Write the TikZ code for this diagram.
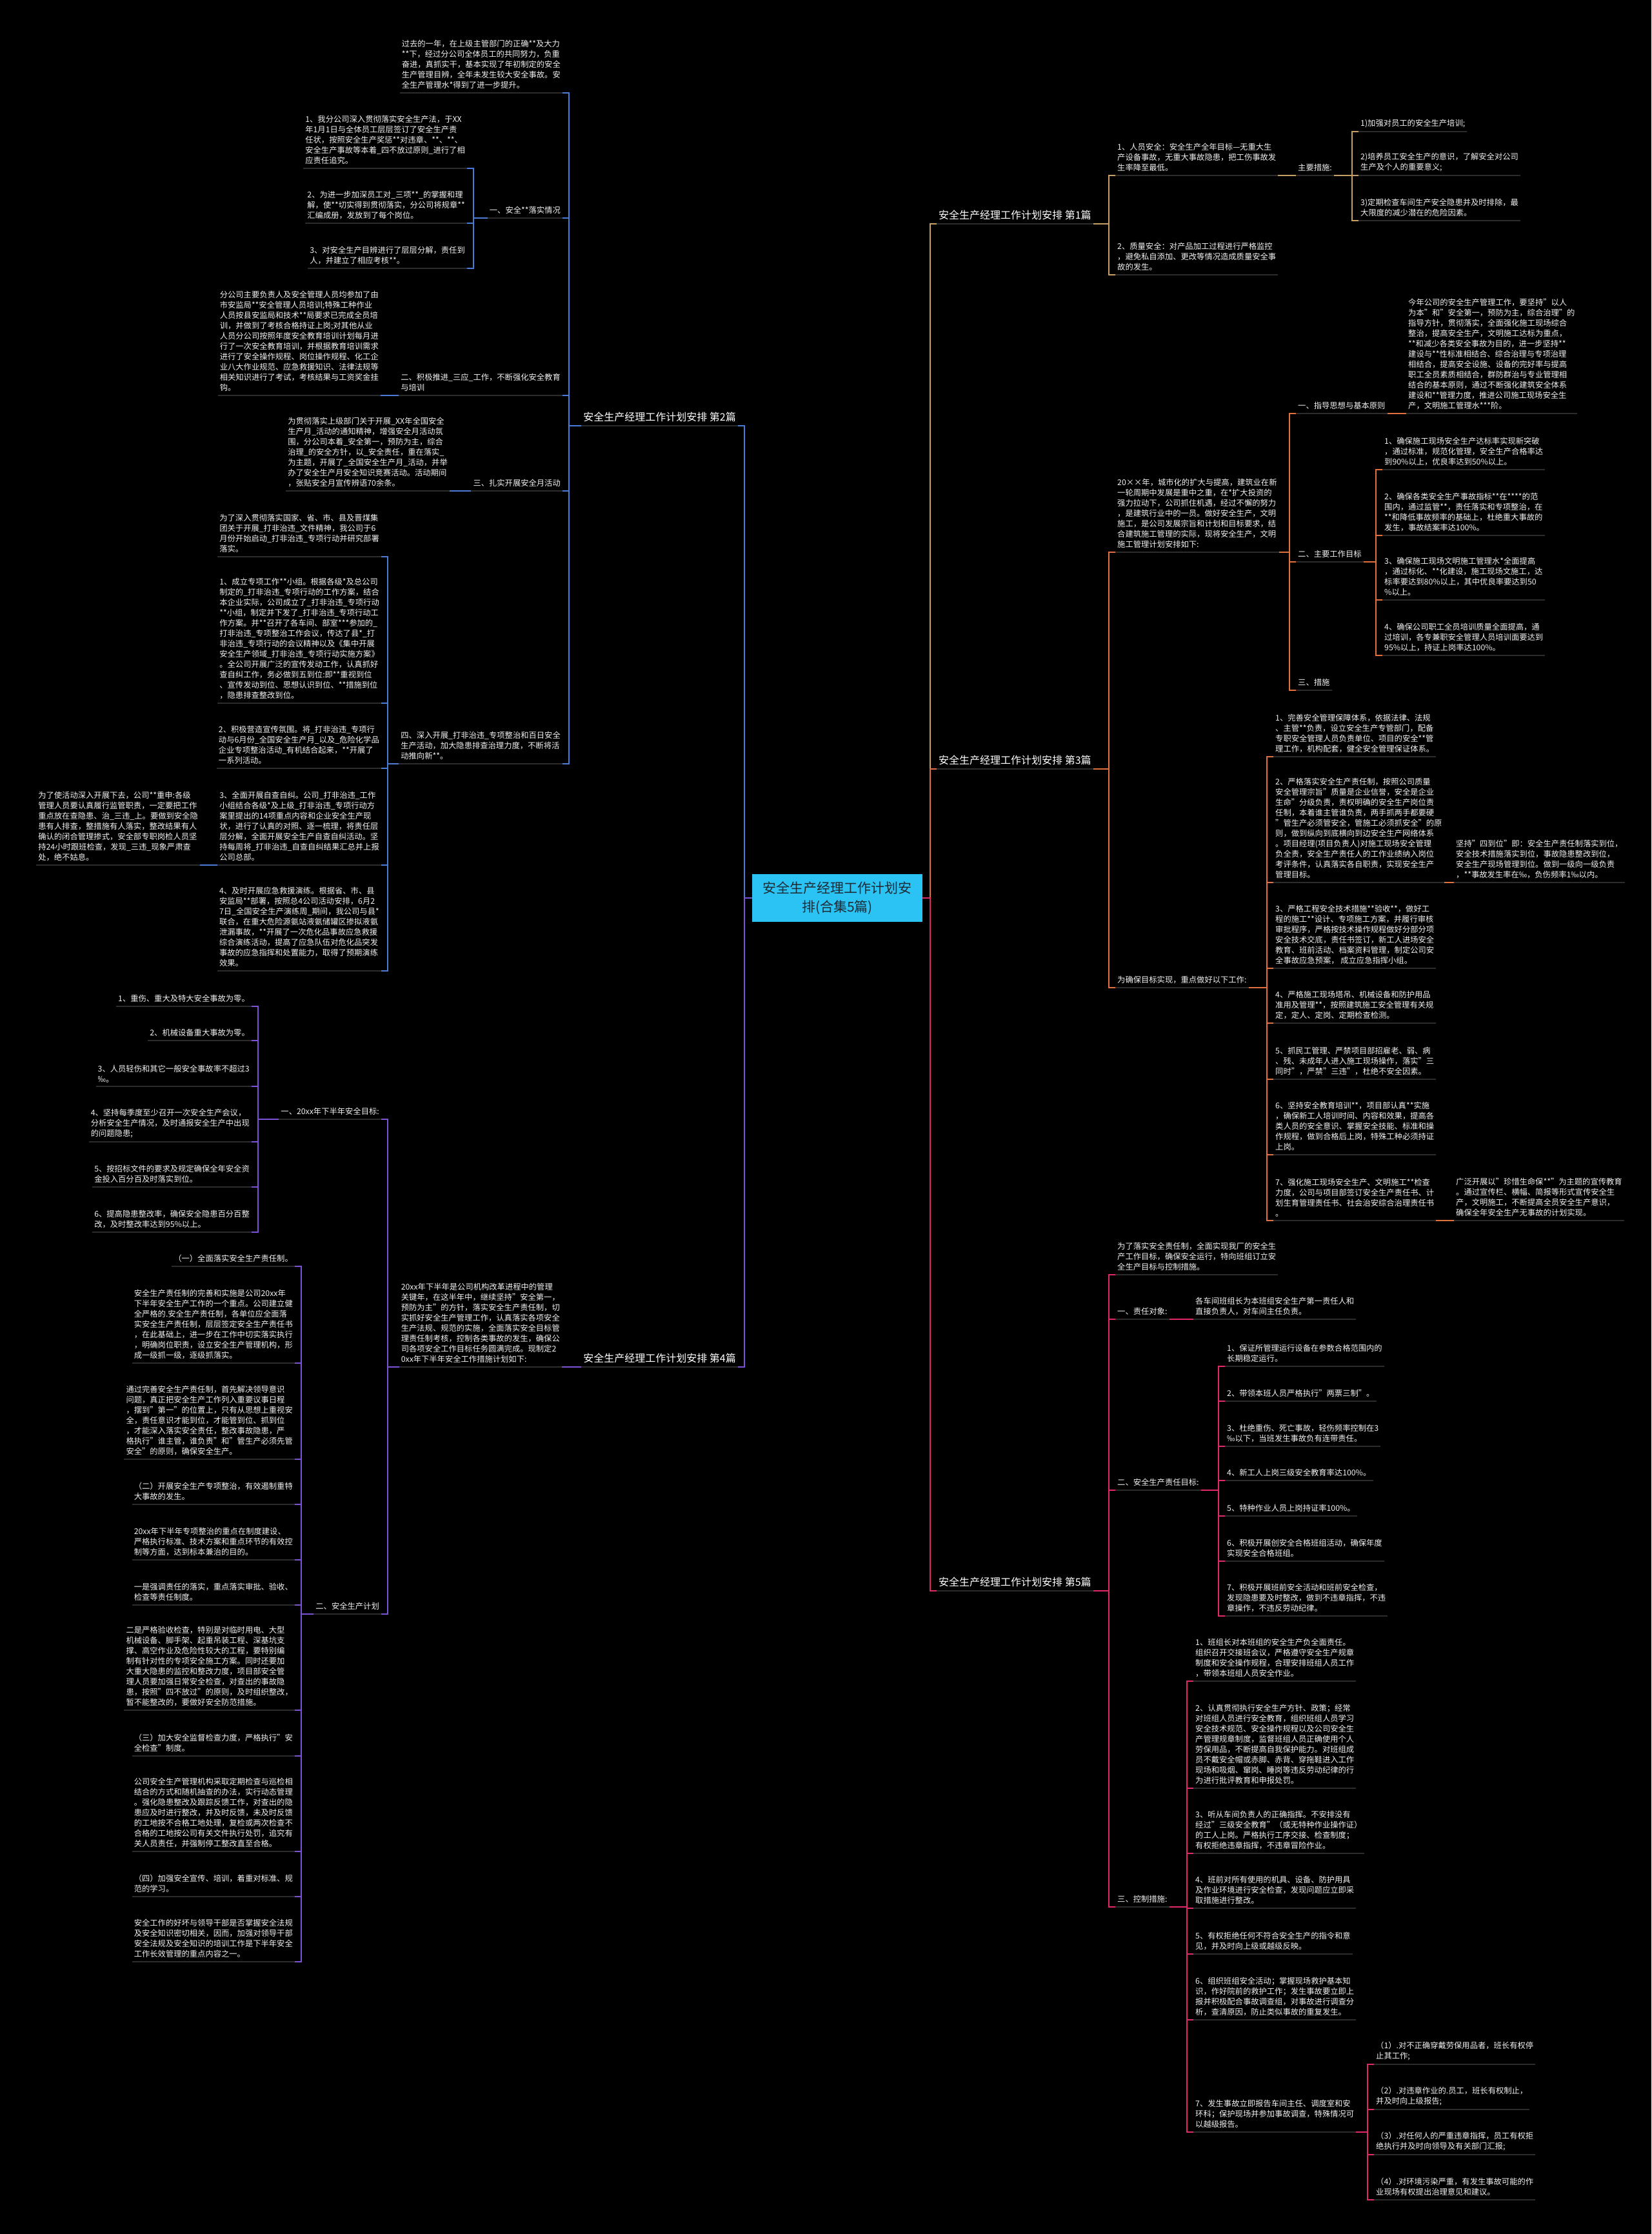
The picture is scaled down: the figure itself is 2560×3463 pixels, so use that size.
\documentclass[tikz,border=0pt]{standalone}
\usepackage{fontspec}
\setmainfont{Noto Sans CJK SC}
\usetikzlibrary{calc}
\definecolor{cB}{HTML}{4A7BD6}
\definecolor{cP}{HTML}{7B52D6}
\definecolor{cG}{HTML}{C9A063}
\definecolor{cO}{HTML}{E2703F}
\definecolor{cR}{HTML}{E0286A}
\definecolor{ulc}{HTML}{2C2C2C}
\definecolor{cen}{HTML}{2BC3F4}
\definecolor{centxt}{HTML}{1E2A33}
\tikzset{
  tx/.style={font=\fontsize{12.3}{16}\selectfont, text=white!95!black, align=left, inner xsep=3pt, inner ysep=6pt},
  tl/.style={tx, anchor=south east},
  tr/.style={tx, anchor=south west},
  lab/.style={font=\fontsize{16}{20}\selectfont, text=white, inner xsep=3pt, inner ysep=6pt},
  cn/.style={line width=2pt},
  ulin/.style={line width=2.5pt, ulc},
}
\newcommand\LConn[3]{\draw[cn,#1] (#2.south west) -| ([xshift=10pt]#3.south east) -- (#3.south east);}
\newcommand\RConn[3]{\draw[cn,#1] (#2.south east) -| ([xshift=-10pt]#3.south west) -- (#3.south west);}
\begin{document}
\begin{tikzpicture}[x=1pt,y=-1pt]
\fill[black] (0,0) rectangle (2560,3463);
\path[use as bounding box] (0,0) rectangle (2560,3463);

% centre
\node[fill=cen, text=centxt, minimum width=264pt, minimum height=74pt, font=\fontsize{21}{29}\selectfont, align=center, inner sep=2pt] (c) at (1298,1392) {安全生产经理工作计划安\\排(合集5篇)};

% ================= Branch 2 (left, blue)
\node[lab, anchor=south east] (b2) at (1144,660) {安全生产经理工作计划安排 第2篇};
\node[tl] (b2i) at (872,144) {过去的一年，在上级主管部门的正确**及大力\\**下，经过分公司全体员工的共同努力，负重\\奋进，真抓实干，基本实现了年初制定的安全\\生产管理目辨，全年未发生较大安全事故。安\\全生产管理水*得到了进一步提升。};
\node[tl] (b2a) at (872,338) {一、安全**落实情况};
\node[tl] (b2a1) at (724,261) {1、我分公司深入贯彻落实安全生产法，于XX\\年1月1日与全体员工层层签订了安全生产责\\任状，按照安全生产奖惩**对违章、**、**、\\安全生产事故等本着\_四不放过原则\_进行了相\\应责任追究。};
\node[tl] (b2a2) at (724,346) {2、为进一步加深员工对\_三项**\_的掌握和理\\解，使**切实得到贯彻落实，分公司将规章**\\汇编成册，发放到了每个岗位。};
\node[tl] (b2a3) at (724,416) {3、对安全生产目辨进行了层层分解，责任到\\人，并建立了相应考核**。};
\node[tl] (b2b) at (872,613) {二、积极推进\_三应\_工作，不断强化安全教育\\与培训};
\node[tl] (b2b1) at (590,613) {分公司主要负责人及安全管理人员均参加了由\\市安监局**安全管理人员培训;特殊工种作业\\人员按县安监局和技术**局要求已完成全员培\\训，并做到了考核合格持证上岗;对其他从业\\人员分公司按照年度安全教育培训计划每月进\\行了一次安全教育培训，并根据教育培训需求\\进行了安全操作规程、岗位操作规程、化工企\\业八大作业规范、应急救援知识、法律法规等\\相关知识进行了考试，考核结果与工资奖金挂\\钩。};
\node[tl] (b2c) at (872,761) {三、扎实开展安全月活动};
\node[tl] (b2c1) at (697,761) {为贯彻落实上级部门关于开展\_XX年全国安全\\生产月\_活动的通知精神，增强安全月活动氛\\围，分公司本着\_安全第一，预防为主，综合\\治理\_的安全方针，以\_安全责任，重在落实\_\\为主题，开展了\_全国安全生产月\_活动，并举\\办了安全生产月安全知识竞赛活动。活动期间\\，张贴安全月宣传辨语70余条。};
\node[tl] (b2d) at (872,1184) {四、深入开展\_打非治违\_专项整治和百日安全\\生产活动，加大隐患排查治理力度，不断将活\\动推向新**。};
\node[tl] (b2d1) at (591,863) {为了深入贯彻落实国家、省、市、县及晋煤集\\团关于开展\_打非治违\_文件精神，我公司于6\\月份开始启动\_打非治违\_专项行动并研究部署\\落实。};
\node[tl] (b2d2) at (591,1090) {1、成立专项工作**小组。根据各级*及总公司\\制定的\_打非治违\_专项行动的工作方案，结合\\本企业实际，公司成立了\_打非治违\_专项行动\\**小组，制定并下发了\_打非治违\_专项行动工\\作方案。并**召开了各车间、部室***参加的\_\\打非治违\_专项整治工作会议，传达了县*\_打\\非治违\_专项行动的会议精神以及《集中开展\\安全生产领域\_打非治违\_专项行动实施方案》\\。全公司开展广泛的宣传发动工作，认真抓好\\查自纠工作，务必做到五到位:即**重视到位\\、宣传发动到位、思想认识到位、**措施到位\\，隐患排查整改到位。};
\node[tl] (b2d3) at (591,1191) {2、积极营造宣传氛围。将\_打非治违\_专项行\\动与6月份\_全国安全生产月\_以及\_危险化学品\\企业专项整治活动\_有机结合起来，**开展了\\一系列活动。};
\node[tl] (b2d4) at (591,1341) {3、全面开展自查自纠。公司\_打非治违\_工作\\小组结合各级*及上级\_打非治违\_专项行动方\\案里提出的14项重点内容和企业安全生产现\\状，进行了认真的对照、逐一梳理，将责任层\\层分解，全面开展安全生产自查自纠活动。坚\\持每周将\_打非治违\_自查自纠结果汇总并上报\\公司总部。};
\node[tl] (b2d4a) at (310,1341) {为了使活动深入开展下去，公司**重申:各级\\管理人员要认真履行监管职责，一定要把工作\\重点放在查隐患、治\_三违\_上。要做到安全隐\\患有人排查，整措施有人落实，整改结果有人\\确认的闭合管理掺式，安全部专职岗检人员坚\\持24小时跟班检查，发现\_三违\_现象严肃查\\处，绝不姑息。};
\node[tl] (b2d5) at (591,1505) {4、及时开展应急救援演练。根据省、市、县\\安监局**部署，按照总4公司活动安排，6月2\\7日\_全国安全生产演练周\_期间，我公司与县*\\联合，在重大危险源氨站液氨储罐区掺拟液氨\\泄漏事故，**开展了一次危化品事故应急救援\\综合演练活动，提高了应急队伍对危化品突发\\事故的应急指挥和处置能力，取得了预期演练\\效果。};

% ================= Branch 4 (left, purple)
\node[lab, anchor=south east] (b4) at (1144,2119) {安全生产经理工作计划安排 第4篇};
\node[tl] (b4i) at (871,2119) {20xx年下半年是公司机构改革进程中的管理\\关键年，在这半年中，继续坚持"安全第一，\\预防为主"的方针，落实安全生产责任制，切\\实抓好安全生产管理工作，认真落实各项安全\\生产法规、规范的实施，全面落实安全目标管\\理责任制考核，控制各类事故的发生，确保公\\司各项安全工作目标任务圆满完成。现制定2\\0xx年下半年安全工作措施计划如下:};
\node[tl] (b4a) at (591,1735) {一、20xx年下半年安全目标:};
\node[tl] (b4a1) at (390,1560) {1、重伤、重大及特大安全事故为零。};
\node[tl] (b4a2) at (390,1613) {2、机械设备重大事故为零。};
\node[tl] (b4a3) at (390,1684) {3、人员轻伤和其它一般安全事故率不超过3\\‰。};
\node[tl] (b4a4) at (390,1770) {4、坚持每季度至少召开一次安全生产会议，\\分析安全生产情况，及时通报安全生产中出现\\的问题隐患;};
\node[tl] (b4a5) at (390,1840) {5、按招标文件的要求及规定确保全年安全资\\金投入百分百及时落实到位。};
\node[tl] (b4a6) at (390,1910) {6、提高隐患整改率，确保安全隐患百分百整\\改，及时整改率达到95\%以上。};
\node[tl] (b4b) at (591,2502) {二、安全生产计划};
\node[tl] (b4b1) at (457,1963) {（一）全面落实安全生产责任制。};
\node[tl] (b4b2) at (457,2113) {安全生产责任制的完善和实施是公司20xx年\\下半年安全生产工作的一个重点。公司建立健\\全严格的.安全生产责任制，各单位应全面落\\实安全生产责任制，层层签定安全生产责任书\\，在此基础上，进一步在工作中切实落实执行\\，明确岗位职责，设立安全生产管理机构，形\\成一级抓一级，逐级抓落实。};
\node[tl] (b4b3) at (457,2262) {通过完善安全生产责任制，首先解决领导意识\\问题，真正把安全生产工作列入重要议事日程\\，摆到"第一"的位置上，只有从思想上重视安\\全，责任意识才能到位，才能管到位、抓到位\\，才能深入落实安全责任，整改事故隐患，严\\格执行"谁主管，谁负责"和"管生产必须先管\\安全"的原则，确保安全生产。};
\node[tl] (b4b4) at (457,2332) {（二）开展安全生产专项整治，有效遏制重特\\大事故的发生。};
\node[tl] (b4b5) at (457,2418) {20xx年下半年专项整治的重点在制度建设、\\严格执行标准、技术方案和重点环节的有效控\\制等方面，达到标本兼治的目的。};
\node[tl] (b4b6) at (457,2488) {一是强调责任的落实，重点落实审批、验收、\\检查等责任制度。};
\node[tl] (b4b7) at (457,2651) {二是严格验收检查，特别是对临时用电、大型\\机械设备、脚手架、起重吊装工程、深基坑支\\撑、高空作业及危险性较大的工程，要特别编\\制有针对性的专项安全施工方案。同时还要加\\大重大隐患的监控和整改力度，项目部安全管\\理人员要加强日常安全检查，对查出的事故隐\\患，按照"四不放过"的原则，及时组织整改，\\暂不能整改的，要做好安全防范措施。};
\node[tl] (b4b8) at (457,2722) {（三）加大安全监督检查力度，严格执行"安\\全检查"制度。};
\node[tl] (b4b9) at (457,2870) {公司安全生产管理机构采取定期检查与巡检相\\结合的方式和随机抽查的办法，实行动态管理\\。强化隐患整改及跟踪反馈工作，对查出的隐\\患应及时进行整改，并及时反馈，未及时反馈\\的工地按不合格工地处理，复检或两次检查不\\合格的工地按公司有关文件执行处罚，追究有\\关人员责任，并强制停工整改直至合格。};
\node[tl] (b4b10) at (457,2940) {（四）加强安全宣传、培训，着重对标准、规\\范的学习。};
\node[tl] (b4b11) at (457,3041) {安全工作的好坏与领导干部是否掌握安全法规\\及安全知识密切相关，因而，加强对领导干部\\安全法规及安全知识的培训工作是下半年安全\\工作长效管理的重点内容之一。};

% ================= Branch 1 (right, gold)
\node[lab, anchor=south west] (b1) at (1452,347) {安全生产经理工作计划安排 第1篇};
\node[tr] (b1a) at (1729,272) {1、人员安全：安全生产全年目标—无重大生\\产设备事故，无重大事故隐患，把工伤事故发\\生率降至最低。};
\node[tr] (b1am) at (2009,272) {主要措施:};
\node[tr] (b1a1) at (2106,204) {1)加强对员工的安全生产培训;};
\node[tr] (b1a2) at (2106,272) {2)培养员工安全生产的意识，了解安全对公司\\生产及个人的重要意义;};
\node[tr] (b1a3) at (2106,342) {3)定期检查车间生产安全隐患并及时排除，最\\大限度的减少潜在的危险因素。};
\node[tr] (b1b) at (1729,426) {2、质量安全：对产品加工过程进行严格监控\\，避免私自添加、更改等情况造成质量安全事\\故的发生。};

% ================= Branch 3 (right, orange)
\node[lab, anchor=south west] (b3) at (1452,1192) {安全生产经理工作计划安排 第3篇};
\node[tr] (b3i) at (1729,856) {20××年，城市化的扩大与提高，建筑业在新\\一轮周期中发展是重中之重，在*扩大投资的\\强力拉动下，公司抓住机遇，经过不懈的努力\\，是建筑行业中的一员。做好安全生产，文明\\施工，是公司发展宗旨和计划和目标要求，结\\合建筑施工管理的实际，现将安全生产，文明\\施工管理计划安排如下:};
\node[tr] (b3a) at (2009,641) {一、指导思想与基本原则};
\node[tr] (b3a1) at (2180,641) {今年公司的安全生产管理工作，要坚持"以人\\为本"和"安全第一，预防为主，综合治理"的\\指导方针，贯彻落实，全面强化施工现场综合\\整治，提高安全生产，文明施工达标为重点，\\**和减少各类安全事故为目的，进一步坚持**\\建设与**性标准相结合、综合治理与专项治理\\相结合，提高安全设施、设备的完好率与提高\\职工全员素质相结合，群防群治与专业管理相\\结合的基本原则，通过不断强化建筑安全体系\\建设和**管理力度，推进公司施工现场安全生\\产，文明施工管理水***阶。};
\node[tr] (b3b) at (2009,871) {二、主要工作目标};
\node[tr] (b3b1) at (2143,728) {1、确保施工现场安全生产达标率实现新突破\\，通过标准，规范化管理，安全生产合格率达\\到90\%以上，优良率达到50\%以上。};
\node[tr] (b3b2) at (2143,830) {2、确保各类安全生产事故指标**在****的范\\围内，通过监管**，责任落实和专项整治，在\\**和降低事故频率的基础上，杜绝重大事故的\\发生，事故结案率达100\%。};
\node[tr] (b3b3) at (2143,930) {3、确保施工现场文明施工管理水*全面提高\\，通过标化、**化建设，施工现场文施工，达\\标率要达到80\%以上，其中优良率要达到50\\\%以上。};
\node[tr] (b3b4) at (2143,1016) {4、确保公司职工全员培训质量全面提高，通\\过培训，各专兼职安全管理人员培训面要达到\\95\%以上，持证上岗率达100\%。};
\node[tr] (b3c) at (2009,1070) {三、措施};
\node[tr] (b3j) at (1729,1531) {为确保目标实现，重点做好以下工作:};
\node[tr] (b3j1) at (1974,1173) {1、完善安全管理保障体系，依据法律、法规\\、主管**负责，设立安全生产专管部门，配备\\专职安全管理人员负责单位、项目的安全**管\\理工作，机构配套，健全安全管理保证体系。};
\node[tr] (b3j2) at (1974,1368) {2、严格落实安全生产责任制，按照公司质量\\安全管理宗旨"质量是企业信誉，安全是企业\\生命"分级负责，责权明确的安全生产岗位责\\任制，本着谁主管谁负责，两手抓两手都要硬\\"管生产必须管安全，管施工必须抓安全"的原\\则，做到纵向到底横向到边安全生产网络体系\\。项目经理(项目负责人)对施工现场安全管理\\负全责，安全生产责任人的工作业绩纳入岗位\\考评条件，认真落实各自职责，实现安全生产\\管理目标。};
\node[tr] (b3j2a) at (2254,1368) {坚持"四到位"即：安全生产责任制落实到位，\\安全技术措施落实到位，事故隐患整改到位，\\安全生产现场管理到位。做到一级向一级负责\\，**事故发生率在‰，负伤频率1‰以内。};
\node[tr] (b3j3) at (1974,1501) {3、严格工程安全技术措施**验收**，做好工\\程的施工**设计、专项施工方案，并履行审核\\审批程序，严格按技术操作规程做好分部分项\\安全技术交底，责任书签订，新工人进场安全\\教育、班前活动、档案资料管理，制定公司安\\全事故应急预案， 成立应急指挥小组。};
\node[tr] (b3j4) at (1974,1586) {4、严格施工现场塔吊、机械设备和防护用品\\准用及管理**，按照建筑施工安全管理有关规\\定，定人、定岗、定期检查检测。};
\node[tr] (b3j5) at (1974,1673) {5、抓民工管理、严禁项目部招雇老、弱、病\\、残、未成年人进入施工现场操作，落实"三\\同时"，严禁"三违"，杜绝不安全因素。};
\node[tr] (b3j6) at (1974,1790) {6、坚持安全教育培训**，项目部认真**实施\\，确保新工人培训时间、内容和效果，提高各\\类人员的安全意识、掌握安全技能、标准和操\\作规程，做到合格后上岗，特殊工种必须持证\\上岗。};
\node[tr] (b3j7) at (1974,1892) {7、强化施工现场安全生产、文明施工**检查\\力度，公司与项目部签订安全生产责任书、计\\划生育管理责任书、社会治安综合治理责任书\\。};
\node[tr] (b3j7a) at (2254,1892) {广泛开展以"珍惜生命保**"为主题的宣传教育\\。通过宣传栏、横幅、简报等形式宣传安全生\\产，文明施工，不断提高全员安全生产意识，\\确保全年安全生产无事故的计划实现。};

% ================= Branch 5 (right, pink)
\node[lab, anchor=south west] (b5) at (1452,2466) {安全生产经理工作计划安排 第5篇};
\node[tr] (b5i) at (1729,1976) {为了落实安全责任制，全面实现我厂的安全生\\产工作目标，确保安全运行，特向班组订立安\\全生产目标与控制措施。};
\node[tr] (b5a) at (1729,2045) {一、责任对象:};
\node[tr] (b5a1) at (1850,2045) {各车间班组长为本班组安全生产第一责任人和\\直接负责人，对车间主任负责。};
\node[tr] (b5b) at (1729,2310) {二、安全生产责任目标:};
\node[tr] (b5b1) at (1899,2118) {1、保证所管理运行设备在参数合格范围内的\\长期稳定运行。};
\node[tr] (b5b2) at (1899,2172) {2、带领本班人员严格执行"两票三制"。};
\node[tr] (b5b3) at (1899,2242) {3、杜绝重伤、死亡事故，轻伤频率控制在3\\‰以下，当班发生事故负有连带责任。};
\node[tr] (b5b4) at (1899,2295) {4、新工人上岗三级安全教育率达100\%。};
\node[tr] (b5b5) at (1899,2350) {5、特种作业人员上岗持证率100\%。};
\node[tr] (b5b6) at (1899,2420) {6、积极开展创安全合格班组活动，确保年度\\实现安全合格班组。};
\node[tr] (b5b7) at (1899,2505) {7、积极开展班前安全活动和班前安全检查，\\发现隐患要及时整改，做到不违章指挥，不违\\章操作，不违反劳动纪律。};
\node[tr] (b5c) at (1729,2956) {三、控制措施:};
\node[tr] (b5c1) at (1850,2606) {1、班组长对本班组的安全生产负全面责任。\\组织召开交接班会议，严格遵守安全生产规章\\制度和安全操作规程，合理安排班组人员工作\\，带领本班组人员安全作业。};
\node[tr] (b5c2) at (1850,2772) {2、认真贯彻执行安全生产方针、政策；经常\\对班组人员进行安全教育，组织班组人员学习\\安全技术规范、安全操作规程以及公司安全生\\产管理规章制度，监督班组人员正确使用个人\\劳保用品，不断提高自我保护能力。对班组成\\员不戴安全帽或赤脚、赤背、穿拖鞋进入工作\\现场和吸烟、窜岗、睡岗等违反劳动纪律的行\\为进行批评教育和申报处罚。};
\node[tr] (b5c3) at (1850,2873) {3、听从车间负责人的正确指挥。不安排没有\\经过"三级安全教育"（或无特种作业操作证）\\的工人上岗。严格执行工序交接、检查制度；\\有权拒绝违章指挥，不违章冒险作业。};
\node[tr] (b5c4) at (1850,2958) {4、班前对所有使用的机具、设备、防护用具\\及作业环境进行安全检查，发现问题应立即采\\取措施进行整改。};
\node[tr] (b5c5) at (1850,3029) {5、有权拒绝任何不符合安全生产的指令和意\\见，并及时向上级或越级反映。};
\node[tr] (b5c6) at (1850,3131) {6、组织班组安全活动；掌握现场救护基本知\\识，作好院前的救护工作；发生事故要立即上\\报并积极配合事故调查组，对事故进行调查分\\析，查清原因，防止类似事故的重复发生。};
\node[tr] (b5c7) at (1850,3305) {7、发生事故立即报告车间主任、调度室和安\\环科；保护现场并参加事故调查，特殊情况可\\以越级报告。};
\node[tr] (b5c7a) at (2130,3200) {（1）.对不正确穿戴劳保用品者，班长有权停\\止其工作;};
\node[tr] (b5c7b) at (2130,3270) {（2）.对违章作业的.员工，班长有权制止，\\并及时向上级报告;};
\node[tr] (b5c7c) at (2130,3340) {（3）.对任何人的严重违章指挥，员工有权拒\\绝执行并及时向领导及有关部门汇报;};
\node[tr] (b5c7d) at (2130,3410) {（4）.对环境污染严重，有发生事故可能的作\\业现场有权提出治理意见和建议。};

% ================= underlines
\foreach \n in {b2,b2i,b2a,b2a1,b2a2,b2a3,b2b,b2b1,b2c,b2c1,b2d,b2d1,b2d2,b2d3,b2d4,b2d4a,b2d5,
  b4,b4i,b4a,b4a1,b4a2,b4a3,b4a4,b4a5,b4a6,b4b,b4b1,b4b2,b4b3,b4b4,b4b5,b4b6,b4b7,b4b8,b4b9,b4b10,b4b11,
  b1,b1a,b1am,b1a1,b1a2,b1a3,b1b,
  b3,b3i,b3a,b3a1,b3b,b3b1,b3b2,b3b3,b3b4,b3c,b3j,b3j1,b3j2,b3j2a,b3j3,b3j4,b3j5,b3j6,b3j7,b3j7a,
  b5,b5i,b5a,b5a1,b5b,b5b1,b5b2,b5b3,b5b4,b5b5,b5b6,b5b7,b5c,b5c1,b5c2,b5c3,b5c4,b5c5,b5c6,b5c7,b5c7a,b5c7b,b5c7c,b5c7d}
  {\draw[ulin] (\n.south west) -- (\n.south east);}

% ================= connectors
% centre to branches
\draw[cn,cB] (c.west) -| ([xshift=10pt]b2.south east) -- (b2.south east);
\draw[cn,cP] (c.west) -| ([xshift=10pt]b4.south east) -- (b4.south east);
\draw[cn,cG] (c.east) -| ([xshift=-10pt]b1.south west) -- (b1.south west);
\draw[cn,cO] (c.east) -| ([xshift=-10pt]b3.south west) -- (b3.south west);
\draw[cn,cR] (c.east) -| ([xshift=-10pt]b5.south west) -- (b5.south west);

% branch 2
\foreach \k in {b2i,b2a,b2b,b2c,b2d} {\LConn{cB}{b2}{\k}}
\foreach \k in {b2a1,b2a2,b2a3} {\LConn{cB}{b2a}{\k}}
\LConn{cB}{b2b}{b2b1}
\LConn{cB}{b2c}{b2c1}
\foreach \k in {b2d1,b2d2,b2d3,b2d4,b2d5} {\LConn{cB}{b2d}{\k}}
\LConn{cB}{b2d4}{b2d4a}

% branch 4
\LConn{cP}{b4}{b4i}
\foreach \k in {b4a,b4b} {\LConn{cP}{b4i}{\k}}
\foreach \k in {b4a1,b4a2,b4a3,b4a4,b4a5,b4a6} {\LConn{cP}{b4a}{\k}}
\foreach \k in {b4b1,b4b2,b4b3,b4b4,b4b5,b4b6,b4b7,b4b8,b4b9,b4b10,b4b11} {\LConn{cP}{b4b}{\k}}

% branch 1
\foreach \k in {b1a,b1b} {\RConn{cG}{b1}{\k}}
\RConn{cG}{b1a}{b1am}
\foreach \k in {b1a1,b1a2,b1a3} {\RConn{cG}{b1am}{\k}}

% branch 3
\foreach \k in {b3i,b3j} {\RConn{cO}{b3}{\k}}
\foreach \k in {b3a,b3b,b3c} {\RConn{cO}{b3i}{\k}}
\RConn{cO}{b3a}{b3a1}
\foreach \k in {b3b1,b3b2,b3b3,b3b4} {\RConn{cO}{b3b}{\k}}
\foreach \k in {b3j1,b3j2,b3j3,b3j4,b3j5,b3j6,b3j7} {\RConn{cO}{b3j}{\k}}
\RConn{cO}{b3j2}{b3j2a}
\RConn{cO}{b3j7}{b3j7a}

% branch 5
\foreach \k in {b5i,b5a,b5b,b5c} {\RConn{cR}{b5}{\k}}
\RConn{cR}{b5a}{b5a1}
\foreach \k in {b5b1,b5b2,b5b3,b5b4,b5b5,b5b6,b5b7} {\RConn{cR}{b5b}{\k}}
\foreach \k in {b5c1,b5c2,b5c3,b5c4,b5c5,b5c6,b5c7} {\RConn{cR}{b5c}{\k}}
\foreach \k in {b5c7a,b5c7b,b5c7c,b5c7d} {\RConn{cR}{b5c7}{\k}}
\end{tikzpicture}
\end{document}
